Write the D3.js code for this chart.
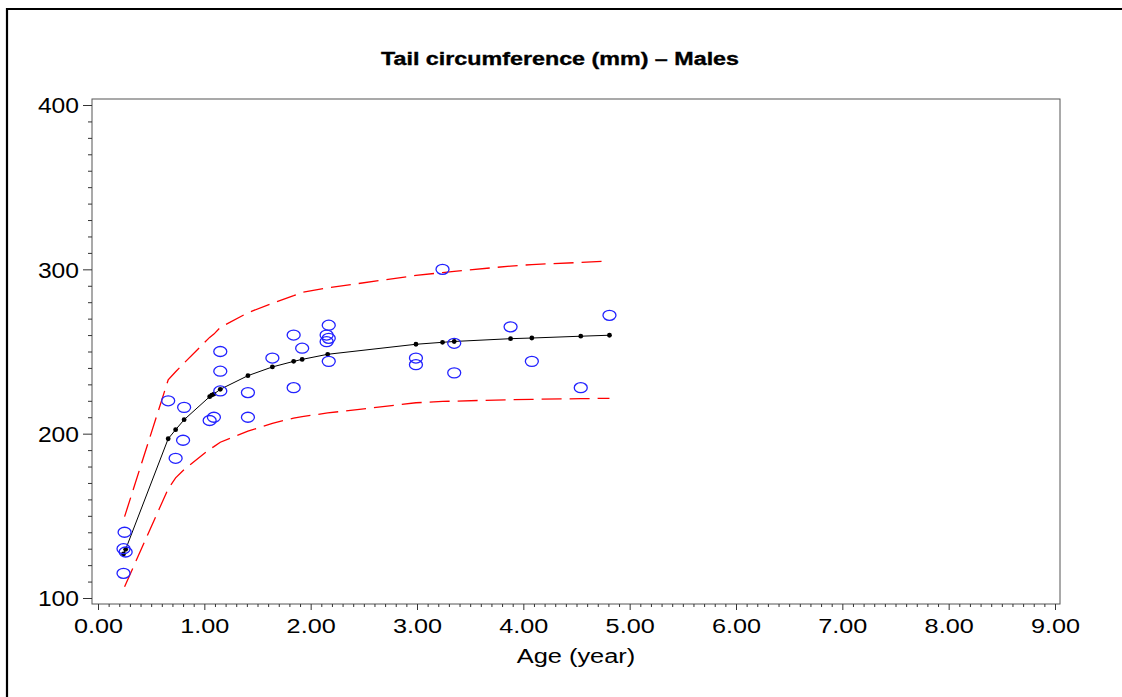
<!DOCTYPE html>
<html>
<head>
<meta charset="utf-8">
<script src="https://cdn.jsdelivr.net/npm/d3@7/dist/d3.min.js"></script>
<style>
  html, body { margin: 0; padding: 0; background: #fff; }
  svg { display: block; }
  text { font-family: "Liberation Sans", Arial, Helvetica, sans-serif; fill: #000; }
</style>
</head>
<body>
<svg id="chart" width="1122" height="697"></svg>
<script>
// Observed tail circumference by age (males)
const obsAge  = [0.25, 0.24, 0.26, 0.24, 0.66, 0.81, 0.80, 0.73, 1.05, 1.09, 1.15, 1.15, 1.15,
                 1.41, 1.41, 1.64, 1.84, 1.92, 1.84, 2.17, 2.15, 2.17, 2.15, 2.17, 2.99, 2.99,
                 3.24, 3.35, 3.35, 3.88, 4.08, 4.54, 4.81];
const obsTail = [140, 130, 128, 115, 220, 216, 196, 185, 208, 210, 250, 238, 226,
                 225, 210, 246, 260, 252, 228, 266, 260, 258, 256, 244, 246, 242,
                 300, 255, 237, 265, 244, 228, 272];

// Fitted growth curve evaluated at the observed ages
const fitAge  = [0.24, 0.26, 0.66, 0.73, 0.81, 1.05, 1.07, 1.09, 1.15, 1.41, 1.64, 1.84,
                 1.92, 2.16, 2.99, 3.24, 3.35, 3.88, 4.08, 4.54, 4.81];
const fitTail = [126.8, 129.6, 196.9, 202.4, 208.5, 222.5, 223.5, 224.1, 227.0, 235.3, 240.6, 244.0,
                 245.2, 248.3, 254.4, 255.6, 256.1, 257.8, 258.2, 259.3, 259.9];

// Prediction band (upper / lower limits)
const bandAge   = [0.25, 0.66, 0.73, 0.81, 1.05, 1.09, 1.15, 1.41, 1.64, 1.84, 1.92, 2.16,
                   2.99, 3.24, 3.35, 3.88, 4.08, 4.54, 4.81];
const bandUpper = [149.5, 232.7, 237.7, 243.0, 258.6, 260.6, 264.6, 273.6, 279.4, 284.0, 286.0, 288.7,
                   296.3, 298.0, 298.8, 302.0, 302.9, 304.2, 305.1];
const bandLower = [106.9, 166.5, 173.1, 178.2, 190.6, 192.1, 194.8, 201.5, 206.3, 209.5, 210.4, 212.6,
                   218.8, 219.6, 219.8, 220.7, 220.9, 221.3, 221.5];

// Axis ticks
const xTicks = [0, 1, 2, 3, 4, 5, 6, 7, 8, 9];
const yTicks = [100, 200, 300, 400];

const titleText = "Tail circumference (mm)  \u2013  Males";
const xLabel = "Age (year)";

const svg = d3.select("#chart");

const x = d3.scaleLinear().domain([0, 9]).range([98, 1055]);
const y = d3.scaleLinear().domain([100, 400]).range([598, 105]);

// widen glyphs horizontally, in the manner of the original device font
function widen(sel, k) {
  sel.each(function () {
    const w = this.getComputedTextLength();
    this.setAttribute("textLength", (w * k).toFixed(1));
    this.setAttribute("lengthAdjust", "spacingAndGlyphs");
  });
}

// page frame
svg.append("path")
  .attr("d", "M7,697 L7,9 L1122,9")
  .attr("fill", "none")
  .attr("stroke", "#000")
  .attr("stroke-width", 2.2);

// plot box
const box = { x0: 92, x1: 1060, y0: 99, y1: 604 };
svg.append("rect")
  .attr("x", box.x0).attr("y", box.y0)
  .attr("width", box.x1 - box.x0).attr("height", box.y1 - box.y0)
  .attr("fill", "none").attr("stroke", "#555").attr("stroke-width", 1);

// y axis: major + minor ticks
const yMinor = d3.range(100, 401, 10).filter(v => v % 100 !== 0);
const yAxisMinor = svg.append("g").attr("transform", `translate(${box.x0},0)`)
  .call(d3.axisLeft(y).tickValues(yMinor).tickSize(4).tickFormat(""));
const yAxis = svg.append("g").attr("transform", `translate(${box.x0},0)`)
  .call(d3.axisLeft(y).tickValues(yTicks).tickSize(9).tickPadding(4).tickFormat(d3.format("d")));

// x axis: major + minor ticks
const xMinor = d3.range(0, 90.5, 1).map(v => v / 10).filter(v => Math.abs(v - Math.round(v)) > 1e-6);
const xAxisMinor = svg.append("g").attr("transform", `translate(0,${box.y1})`)
  .call(d3.axisBottom(x).tickValues(xMinor).tickSize(3).tickFormat(""));
const xAxis = svg.append("g").attr("transform", `translate(0,${box.y1})`)
  .call(d3.axisBottom(x).tickValues(xTicks).tickSize(6).tickPadding(9).tickFormat(d3.format(".2f")));

[yAxisMinor, yAxis, xAxisMinor, xAxis].forEach(g => {
  g.select(".domain").remove();
  g.selectAll(".tick line").attr("stroke", "#333").attr("stroke-width", 1);
});

yAxis.selectAll(".tick text")
  .attr("font-size", 22).attr("font-family", "Liberation Sans, Arial, sans-serif")
  .attr("dy", "0.36em")
  .call(widen, 1.12);

xAxis.selectAll(".tick text")
  .attr("font-size", 20).attr("font-family", "Liberation Sans, Arial, sans-serif")
  .attr("dy", "0.71em")
  .call(widen, 1.26);

// axis label
svg.append("text")
  .attr("x", 576).attr("y", 663)
  .attr("text-anchor", "middle")
  .attr("font-size", 20)
  .text(xLabel)
  .call(widen, 1.27);

// title, bold and stretched to span 358px
svg.append("text")
  .attr("x", 560).attr("y", 65)
  .attr("text-anchor", "middle")
  .attr("font-size", 18)
  .attr("font-weight", "bold")
  .attr("stroke", "#000")
  .attr("stroke-width", 0.35)
  .text(titleText)
  .each(function () {
    this.setAttribute("textLength", 358);
    this.setAttribute("lengthAdjust", "spacingAndGlyphs");
  });

const plot = svg.append("g");

// prediction band
const bandLine = d3.line().x(d => x(d[0])).y(d => y(d[1]));
[bandUpper, bandLower].forEach(vals => {
  plot.append("path")
    .datum(bandAge.map((a, i) => [a, vals[i]]))
    .attr("d", bandLine)
    .attr("fill", "none")
    .attr("stroke", "#ff0000")
    .attr("stroke-width", 1.3)
    .attr("stroke-dasharray", "20,8");
});

// fitted curve
const fitPts = fitAge.map((a, i) => [a, fitTail[i]]);
plot.append("path")
  .datum(fitPts)
  .attr("d", bandLine)
  .attr("fill", "none")
  .attr("stroke", "#000")
  .attr("stroke-width", 1);

plot.selectAll("circle.fit")
  .data(fitPts)
  .join("circle")
  .attr("class", "fit")
  .attr("cx", d => x(d[0])).attr("cy", d => y(d[1]))
  .attr("r", 2.4)
  .attr("fill", "#000");

// observations
plot.selectAll("ellipse.obs")
  .data(obsAge.map((a, i) => [a, obsTail[i]]))
  .join("ellipse")
  .attr("class", "obs")
  .attr("cx", d => x(d[0])).attr("cy", d => y(d[1]))
  .attr("rx", 6.5).attr("ry", 5)
  .attr("fill", "none")
  .attr("stroke", "#2222ff")
  .attr("stroke-width", 1.3);
</script>
</body>
</html>
